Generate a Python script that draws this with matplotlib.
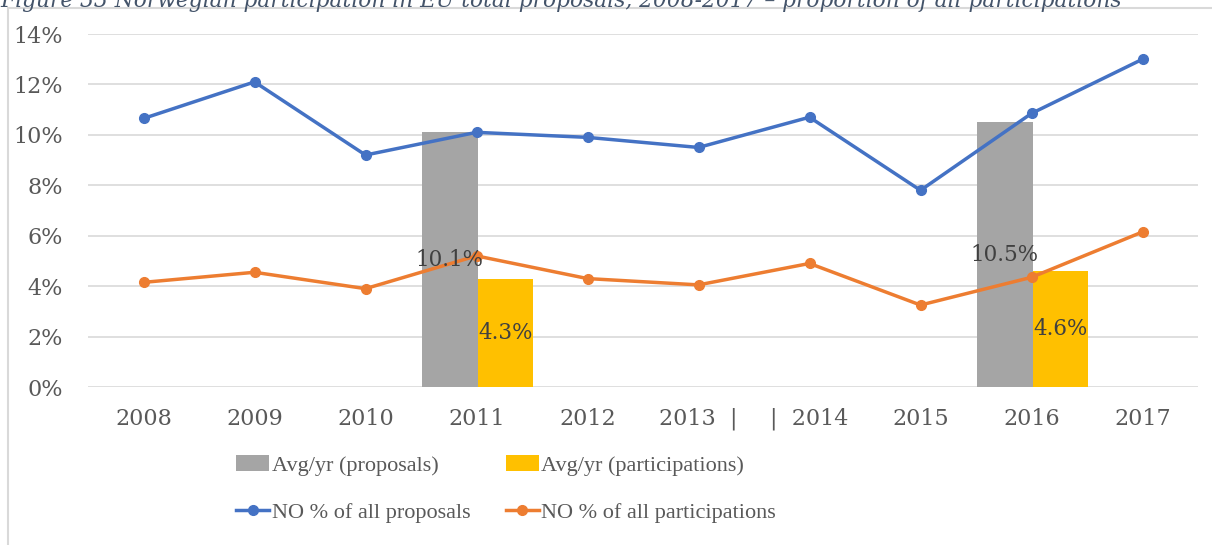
import numpy as np
import matplotlib.pyplot as plt
from matplotlib.patches import Rectangle

years = ["2008", "2009", "2010", "2011", "2012", "2013  |", "|  2014", "2015", "2016", "2017"]
pct_proposals = [10.65, 12.1, 9.2, 10.1, 9.9, 9.5, 10.7, 7.8, 10.85, 13.0]
pct_participations = [4.15, 4.55, 3.9, 5.2, 4.3, 4.05, 4.9, 3.25, 4.35, 6.15]
avg_proposals = [np.nan, np.nan, np.nan, 10.1, np.nan, np.nan, np.nan, np.nan, 10.5, np.nan]
avg_participations = [np.nan, np.nan, np.nan, 4.3, np.nan, np.nan, np.nan, np.nan, 4.6, np.nan]

text_col = '#595959'
serif = ['DejaVu Serif']

fig = plt.figure(figsize=(12.12, 5.45), dpi=100)
ax = fig.add_axes([88 / 1212, 1 - 387 / 545, 1110 / 1212, 353 / 545])

x = np.arange(len(years))
w = 0.5
b1 = ax.bar(x - w / 2 + 0.01, avg_proposals, width=w, color='#A5A5A5', zorder=2,
            label='Avg/yr (proposals)')
b2 = ax.bar(x + w / 2 + 0.01, avg_participations, width=w, color='#FFC000', zorder=2,
            label='Avg/yr (participations)')
l1, = ax.plot(x, pct_proposals, color='#4472C4', lw=2.5, marker='o', ms=7, zorder=3,
              label='NO % of all proposals')
l2, = ax.plot(x, pct_participations, color='#ED7D31', lw=2.5, marker='o', ms=7, zorder=3,
              label='NO % of all participations')

for bars, vals in [(b1, avg_proposals), (b2, avg_participations)]:
    for rect, v in zip(bars, vals):
        if np.isnan(v):
            continue
        ax.text(rect.get_x() + rect.get_width() / 2, v / 2, f'{v:.1f}%', ha='center', va='center',
                fontsize=15.5, color='#404040', family=serif, zorder=5)

ax.set_xlim(-0.5, len(years) - 0.5)
ax.set_ylim(0, 14)
ax.set_yticks(range(0, 15, 2))
ax.set_yticklabels([f'{v}%' for v in range(0, 15, 2)])
ax.set_xticks(x)
ax.set_xticklabels(years)
ax.grid(axis='y', color='#D9D9D9', lw=1.2, zorder=0)
for s in ax.spines.values():
    s.set_visible(False)
ax.tick_params(length=0, labelsize=16, labelcolor=text_col)
ax.tick_params(axis='x', pad=15)
ax.tick_params(axis='y', pad=18)
for lab in ax.get_xticklabels() + ax.get_yticklabels():
    lab.set_family(serif)

# row-major order: bars on the first row, lines on the second
leg = fig.legend(handles=[b1, l1, b2, l2], loc='center', ncol=2,
                 bbox_to_anchor=(506 / 1212, 1 - 489 / 545), frameon=False,
                 prop={'family': 'Liberation Serif', 'size': 16}, handlelength=1.5,
                 handletextpad=0.1, columnspacing=1.6, labelspacing=1.2, labelcolor=text_col)

# outer chart border
fig.patches.append(Rectangle((8 / 1212, -0.1), 1.2, 1 - 8 / 545 + 0.1, transform=fig.transFigure,
                             fill=False, edgecolor='#D9D9D9', lw=1.5))

# caption above the chart, cut off by the top edge as in the source image
fig.text(0.0, 1 - 1 / 545, 'Figure 33 Norwegian participation in EU total proposals, 2008-2017 \u2013 proportion of all participations',
         ha='left', va='center', fontsize=15.7, style='italic', color='#44546A', family=serif)

fig.savefig('out.png', dpi=100)
